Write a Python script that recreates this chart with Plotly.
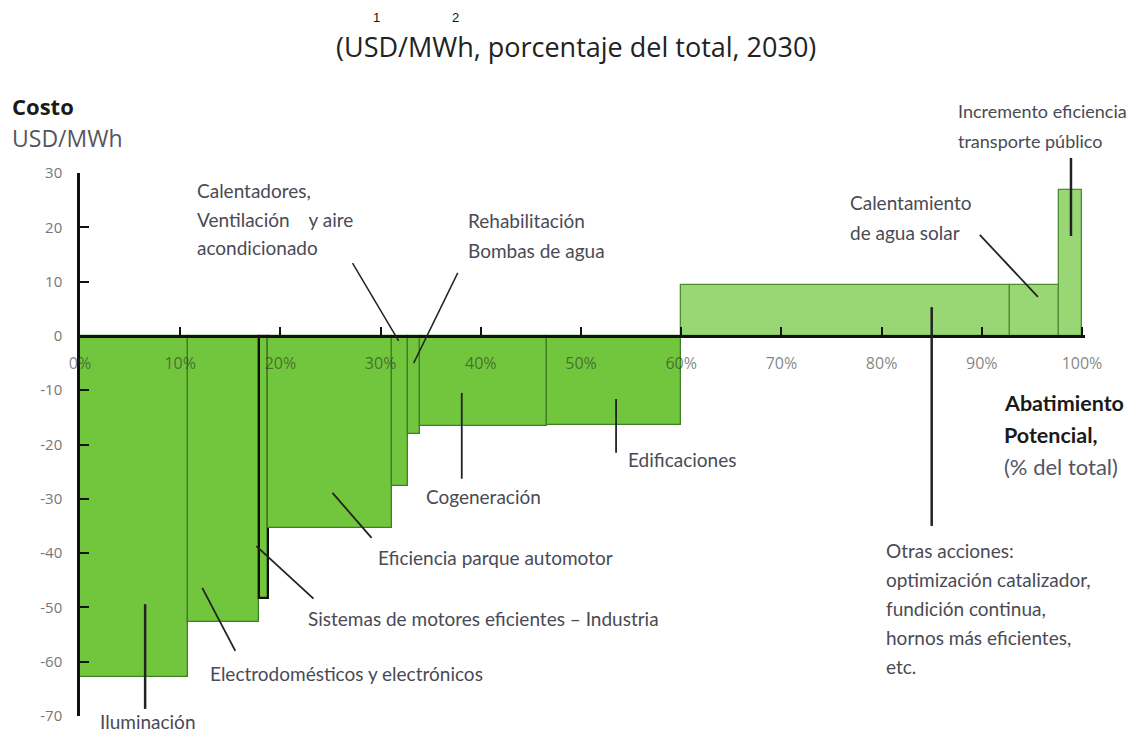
import plotly.graph_objects as go

# ---------------- data ----------------
categories = [
    "Iluminación", "Electrodomésticos y electrónicos",
    "Sistemas de motores eficientes – Industria", "Eficiencia parque automotor",
    "Calentadores, ventilación y aire acondicionado", "Rehabilitación bombas de agua",
    "Cogeneración", "Edificaciones", "Otras acciones",
    "Calentamiento de agua solar", "Incremento eficiencia transporte público",
]
widths = [10.8, 7.1, 0.9, 12.3, 1.6, 1.2, 12.7, 13.4, 32.8, 4.9, 2.3]   # % of total abatement
costs = [-62.9, -52.6, -48.3, -35.4, -27.7, -18.1, -16.6, -16.5, 9.3, 9.3, 26.8]  # USD/MWh
x_tickvals = [0, 10, 20, 30, 40, 50, 60, 70, 80, 90, 100]
x_ticktext = ["0%", "10%", "20%", "30%", "40%", "50%", "60%", "70%", "80%", "90%", "100%"]
y_tickvals = [30, 20, 10, 0, -10, -20, -30, -40, -50, -60, -70]
y_ticktext = ["30", "20", "10", "0", "-10", "-20", "-30", "-40", "-50", "-60", "-70"]

# ---------------- derived bar geometry ----------------
starts = []
acc = 0.0
for w in widths:
    starts.append(acc)
    acc += w
centers = [s + w / 2 for s, w in zip(starts, widths)]

NEG = "#72C63D"
POS = "#98D774"
fill = [NEG if c < 0 else POS for c in costs]
line_col = ["#111111" if i == 2 else ("#3F7F26" if c < 0 else "#4E8C36") for i, c in enumerate(costs)]
line_w = [2.3 if i == 2 else 1.3 for i in range(len(costs))]

fig = go.Figure()
fig.add_trace(go.Bar(
    x=centers, y=costs, width=widths, base=0,
    marker=dict(color=fill, line=dict(color=line_col, width=line_w)),
    text=categories, textposition="none", hoverinfo="text+y", showlegend=False,
))

LABEL_FONT = "Lato, 'Open Sans', sans-serif"
OPEN = "'Open Sans', sans-serif"
TXT = "#4a4a55"
Y0, Y1 = -70, 30


def ypaper(y):
    return (y - Y0) / (Y1 - Y0)


annotations = []


def label(lines, x, y, spacing=29, size=19, color=TXT, bold=False):
    for i, ln in enumerate(lines):
        t = f"<b>{ln}</b>" if bold else ln
        annotations.append(dict(
            x=x, y=ypaper(y), xref="x", yref="paper", text=t, showarrow=False,
            xanchor="left", yanchor="middle", yshift=-i * spacing,
            font=dict(family=LABEL_FONT, size=size, color=color),
        ))


NB = "\u00a0"
label(["Calentadores,", "Ventilación" + NB * 4 + "y aire", "acondicionado"], 11.5, 26.7, spacing=28.5)
label(["Rehabilitación", "Bombas de agua"], 38.5, 21.2, spacing=30)
label(["Calentamiento", "de agua solar"], 76.6, 24.5, spacing=30)
label(["Incremento eficiencia", "transporte público"], 87.4, 41.4, spacing=30, size=18)
label(["Otras acciones:", "optimización catalizador,", "fundición continua,",
       "hornos más eficientes,", "etc."], 80.2, -39.6, spacing=28.8)
label(["Edificaciones"], 54.5, -22.8)
label(["Cogeneración"], 34.3, -29.5)
label(["Eficiencia parque automotor"], 29.5, -40.9)
label(["Sistemas de motores eficientes – Industria"], 22.6, -52.1)
label(["Electrodomésticos y electrónicos"], 12.8, -62.2)
label(["Iluminación"], 1.8, -71.0)
label(["Abatimiento", "Potencial,"], 92.0, -12.3, spacing=32, size=21.5, color="#1a1a1a", bold=True)
label(["(% del total)"], 92.0, -12.3 - 64 / 5.43, size=22, color="#555560")


def px_x(px):
    return (px - 80) / 1005


def px_y(py):
    return (716 - py) / 543


# header texts (paper coordinates)
annotations.append(dict(x=px_x(576), y=px_y(47), xref="paper", yref="paper", showarrow=False,
                        text="(USD/MWh, porcentaje del total, 2030)", xanchor="center", yanchor="middle",
                        font=dict(family=OPEN, size=27, color="#222222")))
for t, px in (("1", 376), ("2", 455)):
    annotations.append(dict(x=px_x(px), y=px_y(18), xref="paper", yref="paper", showarrow=False,
                            text=t, xanchor="center", yanchor="middle",
                            font=dict(family="'Liberation Sans', Arial, sans-serif", size=13, color="#111111")))
annotations.append(dict(x=px_x(10), y=px_y(106), xref="paper", yref="paper", showarrow=False,
                        text="<b>Costo</b>", xanchor="left", yanchor="middle",
                        font=dict(family=OPEN, size=22, color="#1a1a1a")))
annotations.append(dict(x=px_x(10), y=px_y(138), xref="paper", yref="paper", showarrow=False,
                        text="USD/MWh", xanchor="left", yanchor="middle",
                        font=dict(family=OPEN, size=23, color="#555560")))

# leader lines (data coordinates)
leaders = [
    ((6.5, -49.4), (6.5, -68.7), 2.5),
    ((12.2, -46.4), (15.5, -58.0), 1.8),
    ((17.6, -38.7), (23.3, -48.4), 1.8),
    ((25.2, -28.9), (29.1, -37.2), 1.8),
    ((38.1, -10.5), (38.1, -26.3), 1.8),
    ((53.5, -11.6), (53.5, -21.5), 1.8),
    ((27.2, 13.4), (31.8, -0.9), 1.5),
    ((37.7, 11.6), (33.3, -5.0), 1.5),
    ((85.0, 5.3), (85.0, -35.0), 2.5),
    ((89.8, 18.6), (95.6, 7.2), 1.8),
]
shapes = []
for (x0, y0), (x1, y1), w in leaders:
    shapes.append(dict(type="line", xref="x", yref="y", x0=x0, y0=y0, x1=x1, y1=y1,
                       line=dict(color="#222222", width=w), layer="above"))
# transport leader extends above the plotting area -> paper coordinates
shapes.append(dict(type="line", xref="paper", yref="paper",
                   x0=98.9 / 100.3, x1=98.9 / 100.3, y0=px_y(158), y1=px_y(236),
                   line=dict(color="#222222", width=2.5), layer="above"))

fig.update_layout(
    width=1128, height=726,
    margin=dict(l=72, r=51, t=165, b=18, autoexpand=False),
    paper_bgcolor="white", plot_bgcolor="white",
    bargap=0,
    xaxis=dict(
        range=[0, 100.3], tickvals=x_tickvals, ticktext=x_ticktext,
        anchor="free", position=ypaper(0), side="bottom",
        showline=True, linecolor="#111111", linewidth=2.5,
        ticks="inside", ticklen=8, tickwidth=2, tickcolor="#111111",
        ticklabelstandoff=12, automargin=False,
        tickfont=dict(family=OPEN, size=16, color="rgba(40,50,40,0.6)"),
        showgrid=False, zeroline=False, fixedrange=True,
    ),
    yaxis=dict(
        range=[Y0, Y1], tickvals=y_tickvals, ticktext=y_ticktext,
        showline=True, linecolor="#111111", linewidth=2.5,
        ticks="inside", ticklen=9, tickwidth=2, tickcolor="#111111",
        ticklabelstandoff=12, automargin=False,
        tickfont=dict(family=OPEN, size=15, color="#777777"),
        showgrid=False, zeroline=False, fixedrange=True,
    ),
    annotations=annotations,
    shapes=shapes,
)

fig.write_html("out.html")
